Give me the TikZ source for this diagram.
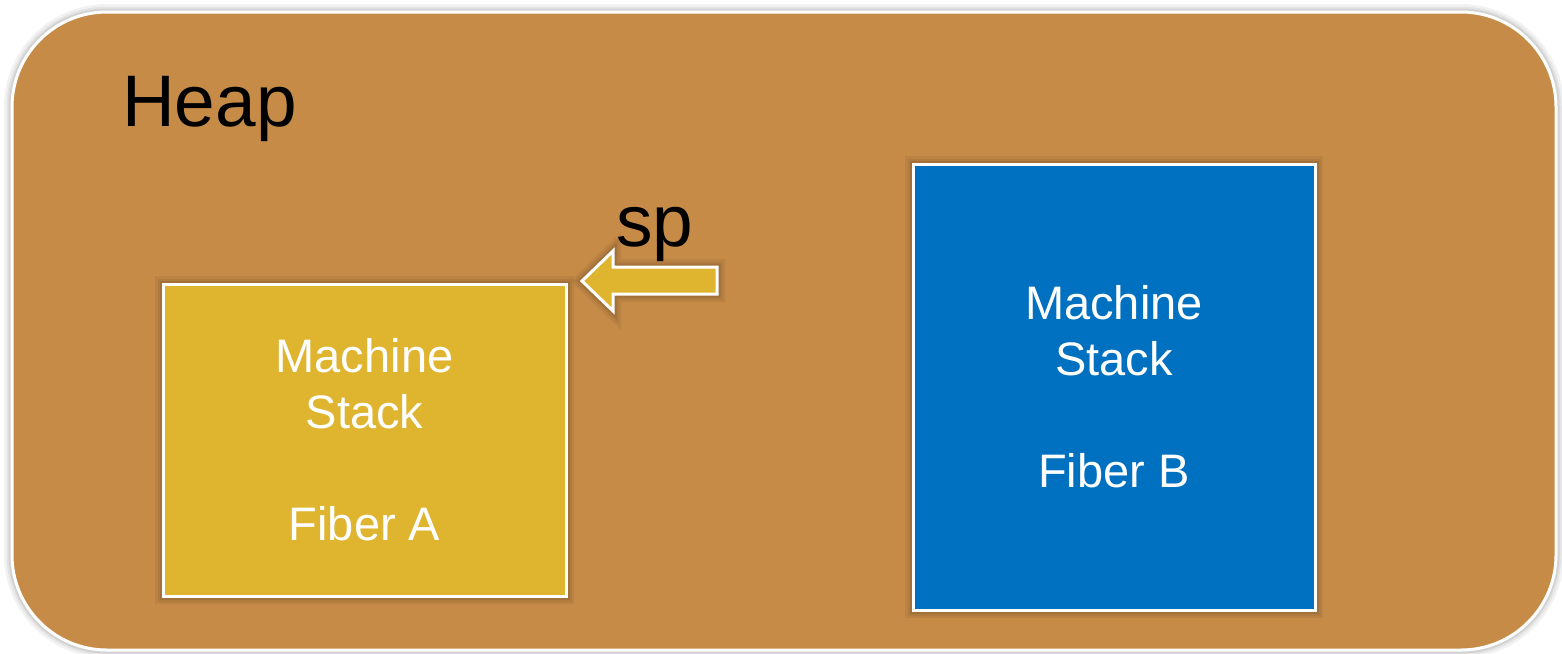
\documentclass[tikz,border=0pt]{standalone}
\usepackage{fontspec}
\setmainfont{Liberation Sans}
\usetikzlibrary{positioning}
\definecolor{heapbrown}{RGB}{198,139,71}
\definecolor{fiberyellow}{RGB}{223,181,48}
\definecolor{fiberblue}{RGB}{0,112,192}
\tikzset{
  halo/.style={
    preaction={draw=black,opacity=0.05,line width=16pt},
    preaction={draw=black,opacity=0.06,line width=11pt},
    preaction={draw=black,opacity=0.08,line width=7pt}},
  heapbox/.style={draw=white,line width=3pt,fill=heapbrown,rounded corners=95pt,
    minimum width=1544pt,minimum height=638pt,inner sep=0pt,halo},
  fiberbox/.style={draw=white,line width=3pt,minimum width=403pt,inner sep=0pt,
    align=center,text=white,font=\fontsize{47}{56}\selectfont,halo},
  bigtext/.style={font=\fontsize{73}{86}\selectfont,text=black,inner sep=0pt},
  spshape/.style={draw=white,line width=3pt,fill=fiberyellow,line join=miter,halo}
}
\begin{document}
\begin{tikzpicture}[x=1pt,y=-1pt]
\useasboundingbox (0,0) rectangle (1562,653);
\node[heapbox] (heap) at (784,331) {};
\node[bigtext,anchor=base west] (heaplabel) at (122,126) {Heap};
\node[fiberbox,fill=fiberyellow,minimum width=403pt,minimum height=312pt] (fiberA) at (364.5,440)
  {Machine\\Stack\\[56pt]Fiber A};
\node[fiberbox,fill=fiberblue,minimum width=402pt,minimum height=446pt] (fiberB) at (1114,387)
  {Machine\\Stack\\[56pt]Fiber B};
\node[bigtext,anchor=base west] (splabel) at (616,246) {sp};
\draw[spshape] (582,281) -- (613,251) -- (613,267) -- (717,267) -- (717,294)
  -- (613,294) -- (613,311) -- cycle;
\coordinate (sptip) at (582,281);
\end{tikzpicture}
\end{document}
